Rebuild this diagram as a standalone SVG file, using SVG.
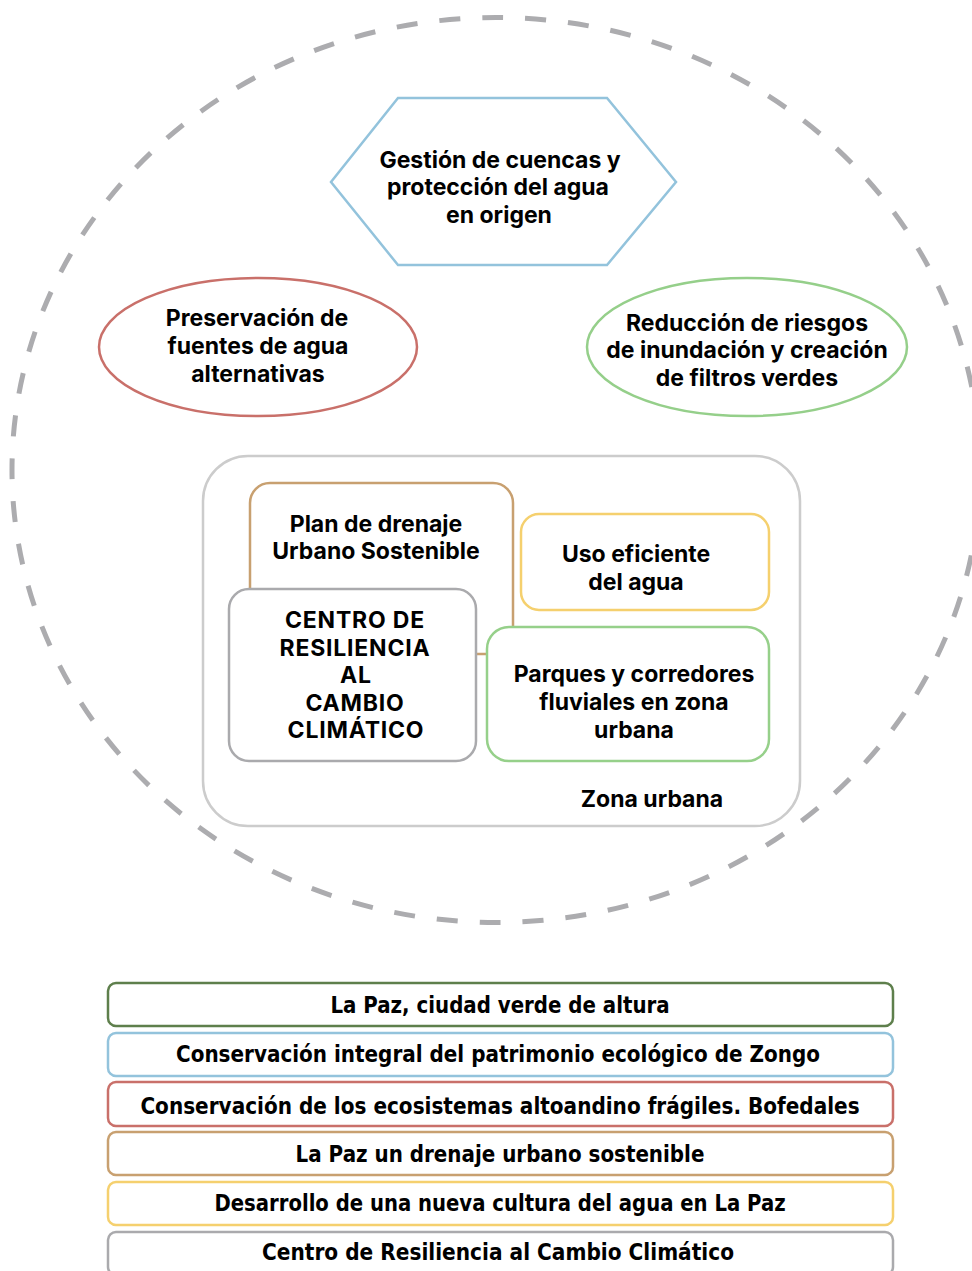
<svg xmlns="http://www.w3.org/2000/svg" width="972" height="1271" viewBox="0 0 972 1271">
<style>
.t{font-family:Inter,"Liberation Sans",Arial,sans-serif;font-weight:700;font-size:23px;fill:#000;text-anchor:middle}
.c{letter-spacing:0.8px}
.b{font-family:"DejaVu Sans","Liberation Sans",sans-serif;font-weight:700;font-size:23px;fill:#000;text-anchor:middle}
.bar{fill:#fff;stroke-width:2.5}
</style>
<rect width="972" height="1271" fill="#fff"/>
<g id="outer">
<ellipse cx="496" cy="470" rx="484" ry="452.5" fill="none" stroke="#acacaf" stroke-width="5" stroke-dasharray="21 22"/>
</g>
<g id="gestion">
<polygon points="398,98 607,98 676,182 607,265 398,265 331,182" fill="#fff" stroke="#93c3dc" stroke-width="2.5"/>
<text class="t" x="500" y="168">Gestión de cuencas y</text>
<text class="t" x="498" y="195">protección del agua</text>
<text class="t" x="499" y="223">en origen</text>
</g>
<g id="preservacion">
<ellipse cx="258" cy="347" rx="159" ry="69" fill="#fff" stroke="#c9706a" stroke-width="2.5"/>
<text class="t" x="257" y="326">Preservación de</text>
<text class="t" x="258" y="354">fuentes de agua</text>
<text class="t" x="258" y="382">alternativas</text>
</g>
<g id="reduccion">
<ellipse cx="747" cy="347" rx="160" ry="69" fill="#fff" stroke="#95cf8a" stroke-width="2.5"/>
<text class="t" x="747" y="331">Reducción de riesgos</text>
<text class="t" x="747" y="358">de inundación y creación</text>
<text class="t" x="747" y="386">de filtros verdes</text>
</g>
<g id="zona-urbana">
<rect x="203" y="456" width="597" height="370" rx="45" fill="#fff" stroke="#cccccc" stroke-width="2.5"/>
<text class="t" x="652" y="807">Zona urbana</text>
</g>
<g id="plan-drenaje">
<rect x="250" y="483" width="263" height="171" rx="20" fill="#fff" stroke="#c8a070" stroke-width="2.5"/>
<text class="t" x="376" y="532">Plan de drenaje</text>
<text class="t" x="376" y="559">Urbano Sostenible</text>
</g>
<g id="uso-eficiente">
<rect x="521" y="514" width="248" height="96" rx="18" fill="#fff" stroke="#f5d06e" stroke-width="2.5"/>
<text class="t" x="636" y="562">Uso eficiente</text>
<text class="t" x="636" y="590">del agua</text>
</g>
<g id="centro">
<rect x="229" y="589" width="247" height="172" rx="20" fill="#fff" stroke="#aaaaad" stroke-width="2.5"/>
<text class="t c" x="355" y="628">CENTRO DE</text>
<text class="t c" x="355" y="656">RESILIENCIA</text>
<text class="t c" x="356" y="683">AL</text>
<text class="t c" x="355" y="711">CAMBIO</text>
<text class="t c" x="356" y="738">CLIMÁTICO</text>
</g>
<g id="parques">
<rect x="487" y="627" width="282" height="134" rx="22" fill="#fff" stroke="#96d08a" stroke-width="2.5"/>
<text class="t" x="634" y="682">Parques y corredores</text>
<text class="t" x="634" y="710">fluviales en zona</text>
<text class="t" x="634" y="738">urbana</text>
</g>
<g id="connectors"></g>
<g id="leyenda">
<g id="bar1"><rect class="bar" x="108" y="983" width="785" height="43" rx="8" stroke="#5e7f4c"/>
<text class="b" transform="translate(500 1013) scale(0.8 1)" x="0" y="0" textLength="424" lengthAdjust="spacingAndGlyphs">La Paz, ciudad verde de altura</text></g>
<g id="bar2"><rect class="bar" x="108" y="1033" width="785" height="43" rx="8" stroke="#93c3dc"/>
<text class="b" transform="translate(498 1062) scale(0.8 1)" x="0" y="0" textLength="805" lengthAdjust="spacingAndGlyphs">Conservación integral del patrimonio ecológico de Zongo</text></g>
<g id="bar3"><rect class="bar" x="108" y="1082" width="785" height="44" rx="8" stroke="#c9706a"/>
<text class="b" transform="translate(500 1114) scale(0.8 1)" x="0" y="0" textLength="899" lengthAdjust="spacingAndGlyphs">Conservación de los ecosistemas altoandino frágiles. Bofedales</text></g>
<g id="bar4"><rect class="bar" x="108" y="1132" width="785" height="43" rx="8" stroke="#c8a070"/>
<text class="b" transform="translate(500 1162) scale(0.8 1)" x="0" y="0" textLength="511" lengthAdjust="spacingAndGlyphs">La Paz un drenaje urbano sostenible</text></g>
<g id="bar5"><rect class="bar" x="108" y="1182" width="785" height="43" rx="8" stroke="#f5d06e"/>
<text class="b" transform="translate(500 1211) scale(0.8 1)" x="0" y="0" textLength="714" lengthAdjust="spacingAndGlyphs">Desarrollo de una nueva cultura del agua en La Paz</text></g>
<g id="bar6"><rect class="bar" x="108" y="1232" width="785" height="43" rx="8" stroke="#aaaaad"/>
<text class="b" transform="translate(498 1260) scale(0.8 1)" x="0" y="0" textLength="590" lengthAdjust="spacingAndGlyphs">Centro de Resiliencia al Cambio Climático</text></g>
</g>
</svg>
